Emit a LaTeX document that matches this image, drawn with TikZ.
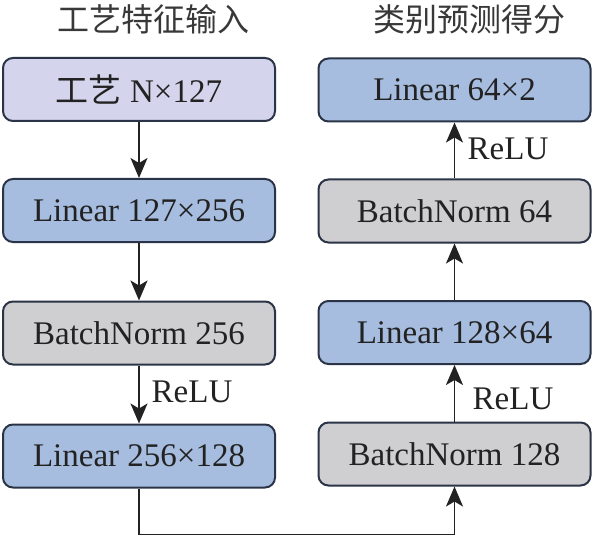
\documentclass[tikz,border=0pt]{standalone}
\usepackage{fontspec}
\setmainfont{Liberation Serif}
\newfontfamily\cjk{Noto Sans CJK SC}
\usetikzlibrary{arrows.meta}
\definecolor{lav}{HTML}{D4D5EC}
\definecolor{lblue}{HTML}{A6BDDF}
\definecolor{lgray}{HTML}{CFCFD2}
\definecolor{bord}{HTML}{2B3346}
\definecolor{txt}{HTML}{222222}
\begin{document}
\begin{tikzpicture}[x=1pt,y=-1pt,
  box/.style={draw=bord, line width=2pt, rounded corners=10pt, minimum width=272pt, minimum height=63pt, inner sep=0pt, font=\fontsize{33}{36}\selectfont, text=txt},
  inbox/.style={box, fill=lav},
  linbox/.style={box, fill=lblue},
  bnbox/.style={box, fill=lgray},
  arr/.style={draw=txt, line width=1.8pt, -{Stealth[length=20pt,width=17pt,inset=5pt]}},
  lbl/.style={font=\fontsize{33}{36}\selectfont, text=txt, inner sep=0pt},
  ttl/.style={font=\cjk\fontsize{32}{36}\selectfont, text=txt!90, inner sep=0pt}]
\useasboundingbox (0,0) rectangle (593,537);
\node[ttl] (T1) at (153,19) {工艺特征输入};
\node[ttl] (T2) at (469,19) {类别预测得分};
\node[inbox]  (L1) at (139,89.5) {{\cjk 工艺} N×127};
\node[linbox] (L2) at (139,210.5) {Linear 127×256};
\node[bnbox]  (L3) at (139,333) {BatchNorm 256};
\node[linbox] (L4) at (139,456) {Linear 256×128};
\node[linbox] (R1) at (454.5,90) {Linear 64×2};
\node[bnbox]  (R2) at (454.5,211) {BatchNorm 64};
\node[linbox] (R3) at (454.5,332.5) {Linear 128×64};
\node[bnbox]  (R4) at (454.5,454) {BatchNorm 128};
\draw[arr] (L1) -- (L2);
\draw[arr] (L2) -- (L3);
\draw[arr] (L3) -- (L4);
\draw[arr] (L4.south) -- ++(0,46) -| (R4.south);
\draw[arr] (R4) -- (R3);
\draw[arr] (R3) -- (R2);
\draw[arr] (R2) -- (R1);
\node[lbl] (RL1) at (192,392) {ReLU};
\node[lbl] (RL2) at (513,399) {ReLU};
\node[lbl] (RL3) at (508,149) {ReLU};
\end{tikzpicture}
\end{document}
